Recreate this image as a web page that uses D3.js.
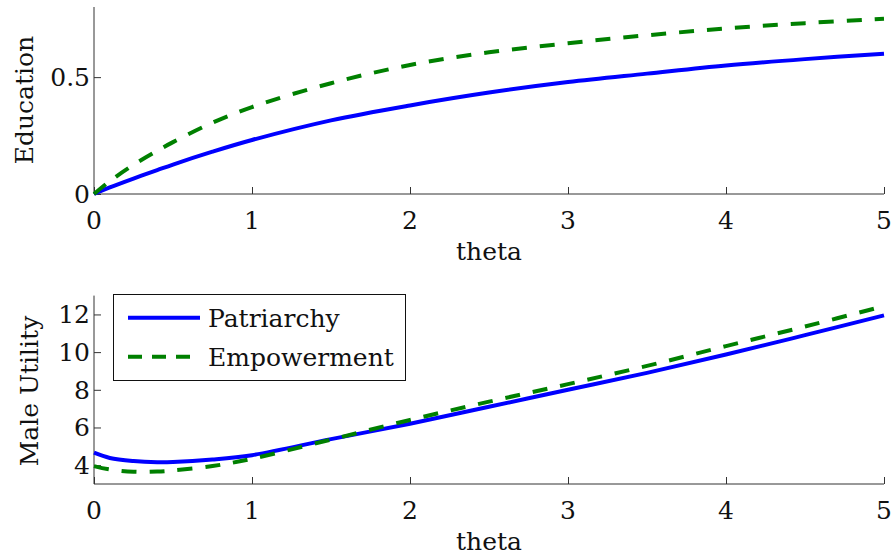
<!DOCTYPE html>
<html>
<head>
<meta charset="utf-8">
<script src="https://cdn.jsdelivr.net/npm/d3@7"></script>
<style>
  body { margin: 0; background: #fff; }
  svg text { font-family: "DejaVu Serif", "Liberation Serif", serif; fill: #111; }
</style>
</head>
<body>
<div id="chart"></div>
<script>
// values
const theta = [0, 0.1, 0.25, 0.4, 0.5, 0.75, 1, 1.5, 2, 2.5, 3, 3.5, 4, 4.5, 5];
const eduPatriarchy = [0, 0.028, 0.066, 0.102, 0.126, 0.181, 0.231, 0.315, 0.379, 0.434, 0.479, 0.515, 0.550, 0.577, 0.600];
const eduEmpowerment = [0, 0.055, 0.125, 0.185, 0.222, 0.305, 0.372, 0.474, 0.552, 0.606, 0.645, 0.679, 0.708, 0.731, 0.750];
const utilPatriarchy = [4.66, 4.38, 4.22, 4.16, 4.17, 4.3, 4.53, 5.38, 6.2, 7.1, 8.0, 8.9, 9.87, 10.9, 11.95];
const utilEmpowerment = [3.95, 3.77, 3.65, 3.66, 3.72, 3.95, 4.34, 5.36, 6.4, 7.37, 8.3, 9.27, 10.32, 11.36, 12.44];

const xTicks = [0, 1, 2, 3, 4, 5];
const eduTicks = [0, 0.5];
const utilTicks = [4, 6, 8, 10, 12];
const seriesNames = ["Patriarchy", "Empowerment"];
const seriesColors = ["#0000ff", "#008000"];

const width = 895, height = 557;
const fontSize = 25;

let svg = d3.select("#chart")
  .append("svg")
  .attr("width", width)
  .attr("height", height);

let x = d3.scaleLinear().domain([0, 5]).range([94, 884]);

function drawPanel(opts) {
  let y = d3.scaleLinear().domain(opts.yDomain).range(opts.yRange);
  let g = svg.append("g");

  // x axis, ticks pointing inward
  let xAxis = g.append("g")
    .attr("transform", "translate(0," + opts.yRange[0] + ")")
    .call(d3.axisTop(x).tickValues(xTicks).tickSize(7).tickFormat(""));
  xAxis.select(".domain").attr("stroke", "#333").attr("d", "M" + x.range()[0] + ",0H" + x.range()[1]);
  xAxis.selectAll(".tick line").attr("stroke", "#333");

  g.selectAll(".xlab")
    .data(xTicks)
    .enter()
    .append("text")
    .attr("x", d => x(d))
    .attr("y", opts.yRange[0] + 35)
    .attr("text-anchor", "middle")
    .style("font-size", fontSize + "px")
    .text(d => d);

  // y axis
  let yAxis = g.append("g")
    .attr("transform", "translate(" + x.range()[0] + ",0)")
    .call(d3.axisRight(y).tickValues(opts.yTicks).tickSize(7).tickFormat(""));
  yAxis.select(".domain").attr("stroke", "#333").attr("d", "M0," + opts.yRange[0] + "V" + opts.yRange[1]);
  yAxis.selectAll(".tick line").attr("stroke", "#333");

  g.selectAll(".ylab")
    .data(opts.yTicks)
    .enter()
    .append("text")
    .attr("x", 90)
    .attr("y", d => y(d))
    .attr("dy", "0.36em")
    .attr("text-anchor", "end")
    .style("font-size", fontSize + "px")
    .text(opts.yFormat);

  g.append("text")
    .attr("x", x(2.5))
    .attr("y", opts.yRange[0] + 66)
    .attr("text-anchor", "middle")
    .style("font-size", fontSize + "px")
    .text("theta");

  g.append("text")
    .attr("transform", "translate(" + opts.labelX + "," + opts.labelY + ") rotate(-90)")
    .attr("text-anchor", "middle")
    .style("font-size", fontSize + "px")
    .text(opts.yLabel);

  let line = d3.line()
    .x((d, i) => x(theta[i]))
    .y(d => y(d))
    .curve(d3.curveCatmullRom);

  opts.series.forEach((s, k) => {
    g.append("path")
      .datum(s)
      .attr("fill", "none")
      .attr("stroke", seriesColors[k])
      .attr("stroke-width", 4)
      .attr("stroke-dasharray", k == 1 ? "15,13" : null)
      .attr("d", line);
  });
}

drawPanel({
  yDomain: [0, 0.8], yRange: [194, 7], yTicks: eduTicks,
  yFormat: d => d, yLabel: "Education", labelX: 33, labelY: 100,
  series: [eduPatriarchy, eduEmpowerment]
});

drawPanel({
  yDomain: [3, 13], yRange: [484, 295.6], yTicks: utilTicks,
  yFormat: d => d, yLabel: "Male Utility", labelX: 38, labelY: 391,
  series: [utilPatriarchy, utilEmpowerment]
});

// legend
let legend = svg.append("g");
legend.append("rect")
  .attr("x", 113.5).attr("y", 294.5)
  .attr("width", 292).attr("height", 86)
  .attr("fill", "#fff").attr("stroke", "#111");

let legY = [317.7, 356.7];
seriesNames.forEach((name, k) => {
  legend.append("line")
    .attr("x1", 128).attr("x2", 200)
    .attr("y1", legY[k]).attr("y2", legY[k])
    .attr("stroke", seriesColors[k])
    .attr("stroke-width", 4)
    .attr("stroke-dasharray", k == 1 ? "14,10" : null);
  legend.append("text")
    .attr("x", 208).attr("y", legY[k])
    .attr("dy", "0.36em")
    .style("font-size", fontSize + "px")
    .text(name);
});
</script>
</body>
</html>
